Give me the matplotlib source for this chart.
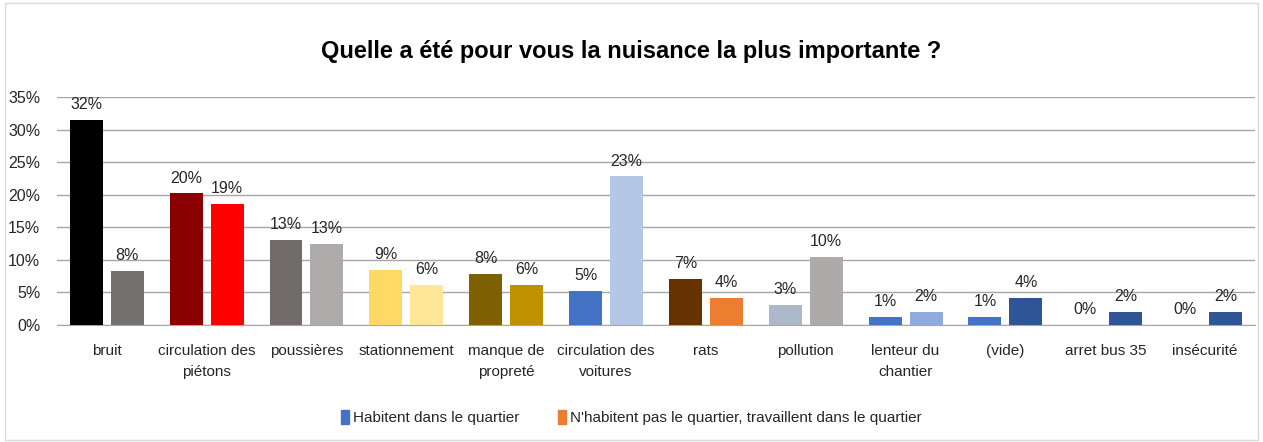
import numpy as np
import matplotlib.pyplot as plt
from matplotlib.patches import Patch, Rectangle
from matplotlib.ticker import PercentFormatter

plt.rcParams['font.family'] = ['Liberation Sans', 'DejaVu Sans']

# --- donnees ---
categories = ['bruit', 'circulation des\npiétons', 'poussières', 'stationnement',
              'manque de\npropreté', 'circulation des\nvoitures', 'rats', 'pollution',
              'lenteur du\nchantier', '(vide)', 'arret bus 35', 'insécurité']
habitent = [0.315, 0.202, 0.131, 0.085, 0.079, 0.052, 0.071, 0.031, 0.013, 0.013, 0.0, 0.0]
travaillent = [0.083, 0.186, 0.125, 0.062, 0.062, 0.228, 0.041, 0.104, 0.020, 0.041, 0.020, 0.020]
labels_h = ['32%', '20%', '13%', '9%', '8%', '5%', '7%', '3%', '1%', '1%', '0%', '0%']
labels_t = ['8%', '19%', '13%', '6%', '6%', '23%', '4%', '10%', '2%', '4%', '2%', '2%']

# couleurs par barre (comme dans le graphique Excel d'origine)
colors_h = ['#000000', '#8B0000', '#716B6B', '#FFD966', '#7F6000', '#4472C4',
            '#663300', '#ADB9CA', '#4472C4', '#4472C4', '#4472C4', '#4472C4']
colors_t = ['#767171', '#FF0000', '#AFABAB', '#FFE699', '#BF9000', '#B4C7E7',
            '#ED7D31', '#AEAAAA', '#8FAADC', '#2F5597', '#2F5597', '#2F5597']

fig = plt.figure(figsize=(12.63, 4.42), dpi=100)
ax = fig.add_axes([0.045, 0.2647, 0.9487, 0.5158])

x = np.arange(len(categories))
w = 0.33
off = 0.205
ax.bar(x - off, habitent, w, color=colors_h, zorder=3)
ax.bar(x + off, travaillent, w, color=colors_t, zorder=3)

# etiquettes de valeur
for i in range(len(categories)):
    ax.text(x[i] - off, habitent[i] + 0.012, labels_h[i], ha='center', va='bottom',
            fontsize=11.5, color='#262626')
    ax.text(x[i] + off, travaillent[i] + 0.012, labels_t[i], ha='center', va='bottom',
            fontsize=11.5, color='#262626')

ax.set_xlim(-0.5, len(categories) - 0.5)
ax.set_ylim(0, 0.35)
ax.set_yticks(np.arange(0, 0.36, 0.05))
ax.yaxis.set_major_formatter(PercentFormatter(1.0, decimals=0))
ax.grid(axis='y', color='#A6A6A6', linewidth=1, zorder=0)
ax.set_xticks(x)
ax.set_xticklabels(categories, fontsize=11, color='#262626', linespacing=1.6)
ax.tick_params(axis='y', labelsize=11.5, labelcolor='#262626', length=0, pad=12)
ax.tick_params(axis='x', length=0, pad=14)
for s in ['top', 'right', 'left']:
    ax.spines[s].set_visible(False)
ax.spines['bottom'].set_color('#A6A6A6')

fig.suptitle('Quelle a été pour vous la nuisance la plus importante ?',
             y=0.91, fontsize=17, fontweight='bold', color='#000000')

handles = [Patch(color='#4472C4', label='Habitent dans le quartier'),
           Patch(color='#ED7D31', label="N'habitent pas le quartier, travaillent dans le quartier")]
fig.legend(handles=handles, loc='center', bbox_to_anchor=(0.5, 0.055), ncol=2,
           frameon=False, fontsize=11, handlelength=0.5, handleheight=1.0,
           handletextpad=0.3, columnspacing=2.5, labelcolor='#262626')

# cadre autour du graphique
fig.patches.append(Rectangle((0.004, 0.004), 0.992, 0.99, transform=fig.transFigure,
                             fill=False, edgecolor='#D9D9D9', linewidth=1))

fig.savefig('out.png', dpi=100)
